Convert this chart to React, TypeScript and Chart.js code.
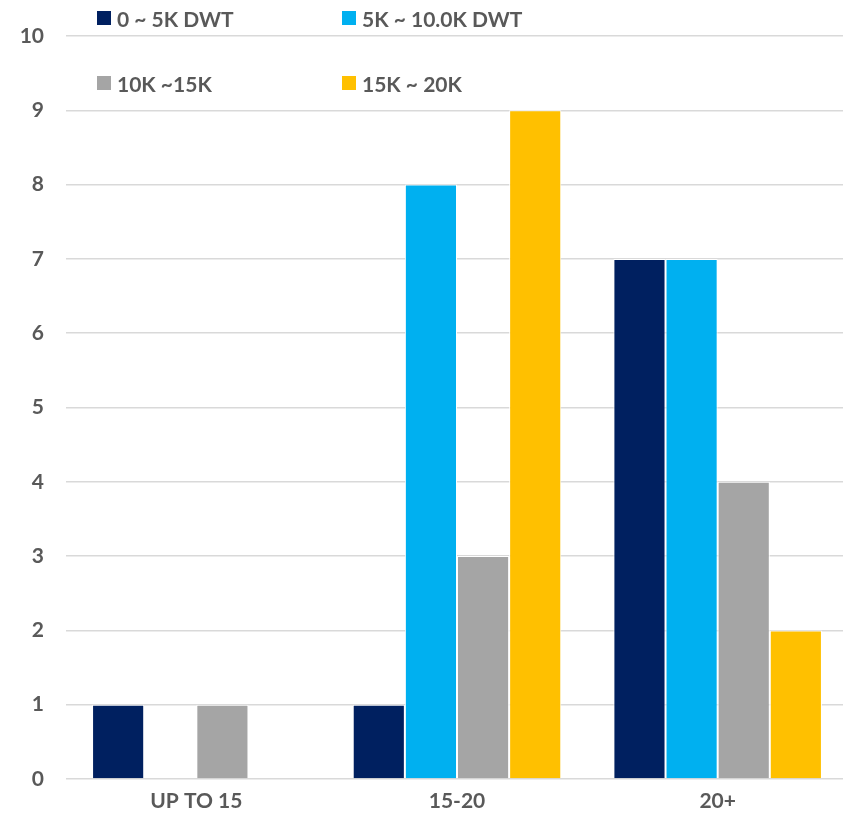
import React, { useEffect, useRef } from "react";
import { Chart, registerables } from "chart.js";

Chart.register(...registerables);

const categories = ["UP TO 15", "15-20", "20+"];
const seriesNames = ["0 ~ 5K DWT", "5K ~ 10.0K DWT", "10K ~15K", "15K ~ 20K"];
const seriesColors = ["#002060", "#00B0F0", "#A5A5A5", "#FFC000"];
const s0to5 = [1, 1, 7];
const s5to10 = [null, 8, 7];
const s10to15 = [1, 3, 4];
const s15to20 = [null, 9, 2];
const yTicks = [0, 1, 2, 3, 4, 5, 6, 7, 8, 9, 10];

const FONT = "Lato, 'Open Sans', sans-serif";
const TEXT = "#595959";
const FS = 21;

export default function App() {
  const ref = useRef<HTMLCanvasElement | null>(null);
  useEffect(() => {
    document.body.style.margin = "0";
    document.body.style.overflow = "hidden";
    const values = [s0to5, s5to10, s10to15, s15to20];
    const chart = new Chart(ref.current!, {
      type: "bar",
      data: {
        labels: categories,
        datasets: seriesNames.map((name, i) => ({
          label: name,
          data: values[i],
          backgroundColor: seriesColors[i],
          borderColor: "#ffffff",
          borderWidth: 1,
          categoryPercentage: 0.8,
          barPercentage: 1.0,
        })),
      },
      options: {
        animation: false,
        responsive: false,
        maintainAspectRatio: false,
        layout: { padding: { top: 36, right: 0, bottom: 0, left: 0 } },
        plugins: { legend: { display: false }, tooltip: { enabled: false } },
        scales: {
          x: {
            grid: { display: false },
            border: { display: false },
            ticks: {
              color: TEXT,
              font: { family: FONT, size: FS, weight: "bold" },
              padding: 2,
            },
            afterFit: (s: any) => {
              s.height = 41;
            },
          },
          y: {
            min: 0,
            max: 10,
            afterBuildTicks: (s: any) => {
              s.ticks = yTicks.map((v) => ({ value: v }));
            },
            grid: { color: "#d9d9d9", lineWidth: 1.5, drawTicks: false },
            border: { display: false },
            ticks: {
              color: TEXT,
              font: { family: FONT, size: FS, weight: "bold" },
              padding: 22,
            },
            afterFit: (s: any) => {
              s.width = 66;
            },
          },
        },
      },
    });
    return () => chart.destroy();
  }, []);

  const legendPos = [
    { left: 97, top: 18 },
    { left: 342, top: 18 },
    { left: 97, top: 83 },
    { left: 342, top: 83 },
  ];

  return (
    <div style={{ position: "fixed", left: 0, top: 0, width: 843, height: 820, overflow: "hidden", background: "#fff" }}>
      <div style={{ position: "absolute", left: 0, top: 0, width: 848, height: 820 }}>
        <canvas ref={ref} width={848} height={820} style={{ width: 848, height: 820, display: "block" }} />
      </div>
      {seriesNames.map((name, i) => (
        <div
          key={name}
          style={{
            position: "absolute",
            left: legendPos[i].left,
            top: legendPos[i].top - 14,
            height: 28,
            display: "flex",
            alignItems: "center",
            fontFamily: FONT,
            fontWeight: "bold",
            fontSize: FS,
            color: TEXT,
            whiteSpace: "nowrap",
          }}
        >
          <span style={{ display: "inline-block", width: 14, height: 14, background: seriesColors[i], marginRight: 6 }} />
          {name}
        </div>
      ))}
    </div>
  );
}
